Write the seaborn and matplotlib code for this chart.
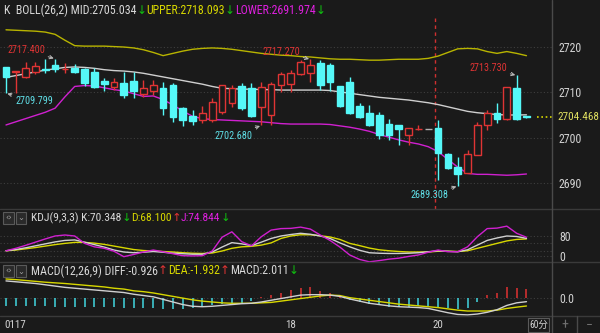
import numpy as np
import pandas as pd
import matplotlib
matplotlib.use("Agg")
import matplotlib.pyplot as plt
import matplotlib.transforms as mtransforms
from matplotlib.lines import Line2D
from matplotlib.patches import Rectangle
from matplotlib import font_manager as fm
import seaborn as sns

# ---------------- data ----------------
opens = [2715.5, 2714.5, 2713.3, 2714.4, 2715.15, 2716.0, 2715.1, 2715.3, 2715.1, 2714.5,
         2712.5, 2711.2, 2712.0, 2712.5, 2709.6, 2710.4, 2710.9, 2711.6, 2706.6, 2704.8,
         2703.9, 2703.9, 2705.7, 2707.7, 2711.4, 2710.9, 2706.7, 2705.0, 2711.6, 2711.8,
         2714.0, 2714.3, 2716.4, 2716.0, 2711.5, 2712.35, 2707.0, 2705.4, 2705.0, 2703.0,
         2702.8, 2700.6, 2701.8, 2701.9, 2702.05, 2696.3, 2693.6, 2692.3, 2696.2, 2702.8,
         2705.5, 2704.2, 2711.0, 2704.7]
closes = [2713.3, 2714.6, 2715.3, 2715.8, 2715.0, 2715.1, 2715.2, 2714.4, 2712.1, 2711.1,
          2711.8, 2712.3, 2709.4, 2710.3, 2710.9, 2711.6, 2706.5, 2704.6, 2703.9, 2703.7,
          2705.5, 2707.9, 2711.6, 2710.9, 2706.5, 2704.8, 2711.2, 2711.8, 2714.0, 2714.3,
          2716.6, 2716.0, 2711.6, 2712.35, 2707.05, 2705.5, 2704.6, 2702.8, 2700.6, 2700.6,
          2701.8, 2702.05, 2701.9, 2701.9, 2696.5, 2693.4, 2692.0, 2696.3, 2702.9, 2705.5,
          2704.2, 2711.2, 2704.2, 2704.468]
highs = [2715.6, 2714.6, 2716.8, 2716.6, 2717.3, 2717.4, 2716.4, 2716.2, 2715.3, 2715.3,
         2713.1, 2713.1, 2714.5, 2714.5, 2712.7, 2712.7, 2712.3, 2712.0, 2706.7, 2706.1,
         2707.0, 2708.7, 2711.6, 2711.6, 2712.0, 2712.0, 2712.35, 2712.35, 2714.55, 2714.9,
         2717.1, 2717.27, 2717.1, 2716.5, 2711.5, 2713.45, 2707.6, 2707.2, 2705.7, 2704.2,
         2702.8, 2702.05, 2702.8, 2701.9, 2703.9, 2696.7, 2695.8, 2697.3, 2703.4, 2706.1,
         2707.6, 2711.2, 2713.73, 2704.7]
lows = [2709.799, 2709.9, 2713.2, 2714.0, 2714.2, 2714.4, 2714.3, 2714.2, 2711.4, 2710.9,
        2710.4, 2710.5, 2708.7, 2708.7, 2708.9, 2709.4, 2705.0, 2703.5, 2702.6, 2702.9,
        2703.3, 2703.5, 2705.2, 2706.7, 2706.1, 2704.6, 2702.68, 2702.8, 2710.1, 2710.1,
        2713.8, 2712.35, 2710.5, 2710.4, 2706.7, 2705.2, 2704.25, 2702.6, 2699.6, 2699.5,
        2698.4, 2698.4, 2701.7, 2701.9, 2690.6, 2693.0, 2689.308, 2692.1, 2696.2, 2701.7,
        2703.15, 2703.9, 2703.9, 2704.4]
boll_mid = [2713.3, 2713.7, 2714.1, 2714.5, 2714.9, 2715.2, 2715.5, 2715.6, 2715.5, 2715.3,
            2715.0, 2714.8, 2714.7, 2714.5, 2714.2, 2713.8, 2713.4, 2713.0, 2712.6, 2712.2,
            2711.8, 2711.3, 2710.9, 2710.8, 2710.7, 2710.7, 2710.6, 2710.6, 2710.5, 2710.5,
            2710.5, 2710.5, 2710.5, 2710.4, 2710.1, 2709.8, 2709.5, 2709.2, 2708.9, 2708.7,
            2708.5, 2708.3, 2708.0, 2707.7, 2707.3, 2706.8, 2706.3, 2705.8, 2705.5, 2705.3,
            2705.1, 2705.0, 2705.0, 2705.034]
boll_upper = [2723.8, 2723.7, 2723.6, 2723.5, 2723.3, 2722.8, 2721.5, 2720.3, 2720.2, 2720.2,
              2720.2, 2720.1, 2720.0, 2719.8, 2719.4, 2718.8, 2718.1, 2718.6, 2719.1, 2719.5,
              2719.7, 2719.8, 2719.7, 2719.5, 2719.2, 2718.9, 2718.6, 2718.4, 2718.2, 2718.1,
              2717.9, 2717.8, 2717.6, 2717.4, 2717.3, 2717.3, 2717.2, 2717.1, 2717.1, 2717.2,
              2717.3, 2717.3, 2717.3, 2717.5, 2718.0, 2718.8, 2719.6, 2719.7, 2719.6, 2719.0,
              2718.6, 2719.0, 2718.6, 2718.093]
boll_lower = [2702.8, 2703.5, 2704.2, 2704.9, 2705.6, 2706.5, 2709.0, 2711.3, 2711.5, 2711.4,
              2711.0, 2710.6, 2710.3, 2709.7, 2709.1, 2709.2, 2708.4, 2707.2, 2705.9, 2704.7,
              2704.2, 2704.0, 2703.9, 2703.8, 2703.7, 2703.6, 2703.5, 2703.3, 2703.1, 2703.0,
              2703.0, 2703.0, 2703.0, 2702.9, 2702.6, 2702.3, 2701.9, 2701.4, 2700.7, 2700.1,
              2699.5, 2699.0, 2698.6, 2698.0, 2696.9, 2695.2, 2693.5, 2692.1, 2691.9, 2691.9,
              2691.8, 2691.7, 2691.8, 2691.974]
kdj_k = [20, 25, 32, 40, 48, 56, 62, 64, 55, 45,
         35, 23, 15, 12, 14, 17, 14, 10, 8, 6,
         6, 15, 35, 53, 48, 41, 55, 70, 80, 86,
         91, 87, 80, 70, 52, 36, 22, 12, 10, 9,
         9, 10, 12, 16, 20, 18, 16, 24, 43, 62,
         72, 80, 78, 70.348]
kdj_d = [20, 23, 28, 33, 39, 45, 50, 54, 54, 51,
         46, 39, 32, 25, 21, 19, 17, 15, 12, 10,
         9, 11, 19, 30, 36, 38, 43, 52, 70, 80,
         85, 85, 81, 76, 66, 50, 41, 31, 24, 20,
         17, 15, 15, 15, 18, 18, 17, 20, 30, 40,
         50, 60, 66, 68.100]
kdj_j = [20, 30, 42, 55, 68, 80, 84, 80, 50, 36,
         30, 18, -4, 5, 15, 23, 16, 8, 0, -1,
         0, 19, 75, 97, 57, 40, 77, 104, 110, 111,
         116, 108, 84, 62, 35, 3, -15, -25, -20, -14,
         -10, -3, 3, 14, 23, 16, 16, 36, 77, 110,
         112, 120, 91, 74.844]
macd_diff = [3.9, 3.7, 3.5, 3.3, 3.0, 2.7, 2.4, 2.2, 2.0, 1.8,
             1.6, 1.4, 1.2, 0.8, 0.5, 0.2, -0.4, -1.0, -1.6, -2.0,
             -2.1, -2.0, -1.8, -1.6, -1.4, -1.3, -1.0, -0.6, -0.2, 0.2,
             0.6, 0.7, 0.7, 0.6, 0.3, -0.3, -0.8, -1.3, -1.6, -1.9,
             -2.1, -2.2, -2.3, -2.5, -3.0, -3.5, -3.9, -4.0, -3.8, -3.4,
             -2.8, -1.8, -1.2, -0.926]
macd_dea = [4.35, 4.2, 4.0, 3.8, 3.6, 3.45, 3.3, 3.1, 2.9, 2.7,
            2.5, 2.2, 2.0, 1.6, 1.4, 1.1, 0.7, 0.3, -0.1, -0.5,
            -0.8, -1.0, -1.2, -1.3, -1.3, -1.3, -1.2, -1.1, -0.8, -0.5,
            -0.2, 0.1, 0.4, 0.6, 0.5, 0.0, -0.3, -0.6, -0.9, -1.2,
            -1.5, -1.7, -1.9, -2.1, -2.3, -2.6, -2.9, -3.1, -3.1, -3.1,
            -2.9, -2.5, -2.2, -1.932]
macd_hist = [-2.0, -2.0, -2.0, -2.0, -2.0, -2.1, -2.1, -2.1, -2.2, -2.2,
             -2.2, -2.2, -2.3, -2.4, -2.4, -2.5, -2.6, -2.6, -2.6, -2.5,
             -2.2, -1.8, -1.5, -1.3, -1.2, -0.8, 0.2, 0.6, 1.2, 1.8,
             2.2, 2.6, 1.5, 1.0, 0.3, -0.5, -0.9, -1.5, -1.7, -2.1,
             -2.1, -2.1, -1.9, -2.0, -2.5, -2.5, -2.6, -2.5, -0.9, 0.6,
             1.2, 2.4, 2.2, 2.011]
price_ticks = [2690, 2700, 2710, 2720]
kdj_ticks = [0, 80]
macd_ticks = [0.0]
date_labels = ["0117", "18", "20"]
date_index = [0, 29, 44]
last_price = 2704.468
marked_high = [5, 31, 52]
marked_low = [0, 26, 46]

# ---------------- style ----------------
BG = "#1a1a1a"
GRID = "#3e3e3e"
SEP = "#3a3a3a"
TXT = "#d2d2d2"
WHITE = "#d8d8d8"
YEL = "#d8d800"
OLIVE = "#b8b400"
MAG = "#d020d0"
RED = "#e03434"
CYAN = "#55f8f8"
GREEN = "#10c010"

sns.set_theme(style="dark", rc={"axes.facecolor": BG, "figure.facecolor": BG})

entries = fm.fontManager.ttflist
names = {f.name for f in entries}
COND = ("condensed", "semi-condensed", "extra-condensed")


def has_cond(name):
    return any(f.name == name and str(f.stretch) in COND for f in entries)


BASE, STRETCH = "Liberation Sans", "normal"
if "Liberation Sans Narrow" in names:
    BASE, STRETCH = "Liberation Sans Narrow", "normal"
elif "Roboto Condensed" in names:
    BASE, STRETCH = "Roboto Condensed", "normal"
else:
    for nm in ("Liberation Sans", "Roboto", "Noto Sans", "Open Sans", "DejaVu Sans"):
        if has_cond(nm):
            BASE, STRETCH = nm, "condensed"
            break
FAM = [BASE, "DejaVu Sans", "Noto Sans CJK SC"]
plt.rcParams["font.family"] = FAM
plt.rcParams["font.stretch"] = STRETCH

W, H = 600, 333
fig = plt.figure(figsize=(6, 3.33), dpi=100)
fig.patch.set_facecolor(BG)
fig.canvas.draw()
renderer = fig.canvas.get_renderer()


def width_of(s, size):
    t = fig.text(0, 0, s, fontsize=size, family=FAM)
    w = t.get_window_extent(renderer).width
    t.remove()
    return w


def fit(s, target, base=9.0):
    return base * target / width_of(s, base)


TICK_FS = min(9.5, fit("2720", 23.5))
ANN_FS = min(8.5, fit("2717.400", 38))
DATE_FS = min(9.5, fit("0117", 22))


def add_ax(top, bottom, left=0, right=552):
    a = fig.add_axes([left / W, 1 - bottom / H, (right - left) / W, (bottom - top) / H])
    a.set_facecolor(BG)
    for s in a.spines.values():
        s.set_visible(False)
    a.set_xticks([])
    a.grid(False)
    a.yaxis.tick_right()
    a.tick_params(axis="y", length=0, pad=5, labelcolor=TXT, labelsize=TICK_FS)
    return a


n = len(closes)
idx = np.arange(n)
XL = (-0.61, 55.6)

df = pd.DataFrame({"i": idx, "open": opens, "close": closes, "high": highs, "low": lows,
                   "mid": boll_mid, "upper": boll_upper, "lower": boll_lower,
                   "k": kdj_k, "d": kdj_d, "j": kdj_j,
                   "diff": macd_diff, "dea": macd_dea, "hist": macd_hist})

# ---------------- main panel ----------------
ax = add_ax(0, 209)
ax.set_xlim(*XL)
ax.set_ylim(2684.25, 2730.38)
ax.set_yticks(price_ticks)
ax.set_yticklabels([str(t) for t in price_ticks])
for t in price_ticks:
    ax.axhline(t, color=GRID, lw=0.8, ls=(0, (1, 2)), zorder=0)

# day divider
ax.axvline(date_index[2] - 0.36, ymin=0, ymax=(209 - 16) / 209, color="#d03030",
           lw=1.0, ls=(0, (2.5, 2.5)), zorder=1)

sns.lineplot(data=df, x="i", y="upper", ax=ax, color=OLIVE, lw=1.0, legend=False, zorder=2)
sns.lineplot(data=df, x="i", y="lower", ax=ax, color=MAG, lw=1.0, legend=False, zorder=2)
sns.lineplot(data=df, x="i", y="mid", ax=ax, color="#cfcfcf", lw=1.0, legend=False, zorder=2)

up = df["close"] > df["open"]
dn = df["close"] < df["open"]
eq = ~(up | dn)
ccol = np.where(up, RED, np.where(dn, CYAN, "#b0b0b0"))
ax.vlines(df["i"], df["low"], df["high"], colors=ccol, lw=1.0, zorder=3)
bw = 0.68
body_lo = np.minimum(df["open"], df["close"])
body_h = np.abs(df["close"] - df["open"])
ax.bar(df["i"][up], body_h[up], bottom=body_lo[up], width=bw, facecolor=BG,
       edgecolor=RED, lw=1.0, zorder=4)
ax.bar(df["i"][dn], body_h[dn], bottom=body_lo[dn], width=bw, facecolor=CYAN,
       edgecolor=CYAN, lw=1.0, zorder=4)
ax.bar(df["i"][eq], body_h[eq], bottom=body_lo[eq], width=bw, facecolor="#b0b0b0",
       edgecolor="#b0b0b0", lw=1.0, zorder=4)

# marked highs / lows
offs_high = {5: (-7.3, 6.3), 31: (-7.5, 5.5), 52: (-6.9, 5.1)}
offs_low = {0: (6.5, -5.6), 26: (-6.7, -7.3), 46: (-7.0, -6.5)}
for i in marked_high:
    dx, dy = offs_high[i]
    ax.annotate(f"{highs[i]:.3f}", xy=(i, highs[i]), xytext=(dx, dy), textcoords="offset points",
                ha="right" if dx < 0 else "left", va="center", color="#e03434", fontsize=ANN_FS,
                arrowprops=dict(arrowstyle="->", color="#bdbdbd", lw=0.7, shrinkA=0, shrinkB=1,
                                mutation_scale=6), zorder=6)
for i in marked_low:
    dx, dy = offs_low[i]
    ax.annotate(f"{lows[i]:.3f}", xy=(i, lows[i]), xytext=(dx, dy), textcoords="offset points",
                ha="right" if dx < 0 else "left", va="center", color="#60e0e8", fontsize=ANN_FS,
                arrowprops=dict(arrowstyle="->", color="#bdbdbd", lw=0.7, shrinkA=0, shrinkB=1,
                                mutation_scale=6), zorder=6)

# last price marker
ax.axhline(last_price, xmin=537 / 552, xmax=1.0, color=YEL, lw=1.2, ls=(0, (1, 1.6)), zorder=5)
trans = mtransforms.blended_transform_factory(ax.transAxes, ax.transData)
lp_fs = min(TICK_FS, fit(f"{last_price:.3f}", 42))
ax.text(1 + 5 / 552, last_price, f"{last_price:.3f}", transform=trans, color="#e0e060",
        fontsize=lp_fs, ha="left", va="center", clip_on=False)

# ---------------- KDJ panel ----------------
axk = add_ax(209, 262)
axk.set_xlim(*XL)
axk.set_ylim(-25.6, 189.6)
axk.set_yticks(kdj_ticks)
axk.set_yticklabels(["0", "80"])
for t in [0, 20, 50, 80]:
    axk.axhline(t, color=GRID, lw=0.8, ls=(0, (1, 2)), zorder=0)
sns.lineplot(data=df, x="i", y="d", ax=axk, color=YEL, lw=1.0, legend=False)
sns.lineplot(data=df, x="i", y="k", ax=axk, color="#d0d0d0", lw=1.0, legend=False)
sns.lineplot(data=df, x="i", y="j", ax=axk, color=MAG, lw=1.0, legend=False)
axk.set_xlabel(""); axk.set_ylabel("")

# ---------------- MACD panel ----------------
axm = add_ax(262, 316)
axm.set_xlim(*XL)
axm.set_ylim(-4.26, 8.3)
axm.set_yticks(macd_ticks)
axm.set_yticklabels(["0.0"])
axm.axhline(0, color=GRID, lw=0.8, ls=(0, (1, 2)), zorder=0)
hcol = np.where(df["hist"] >= 0, "#d03030", "#3fc8d0")
axm.vlines(df["i"], 0, df["hist"], colors=hcol, lw=1.2, zorder=2)
sns.lineplot(data=df, x="i", y="dea", ax=axm, color=YEL, lw=1.0, legend=False, zorder=3)
sns.lineplot(data=df, x="i", y="diff", ax=axm, color="#d0d0d0", lw=1.0, legend=False, zorder=3)
axm.set_xlabel(""); axm.set_ylabel("")
ax.set_xlabel(""); ax.set_ylabel("")
for a in (ax, axk, axm):
    for lab in a.get_yticklabels():
        lab.set_family(FAM)

# ---------------- frame lines ----------------
def fline(x0, y0, x1, y1, c=SEP, lw=1.0):
    fig.add_artist(Line2D([x0 / W, x1 / W], [1 - y0 / H, 1 - y1 / H], color=c, lw=lw))

fline(0, 209, W, 209)
fline(0, 262, W, 262)
fline(0, 316, W, 316)
fline(552, 0, 552, H, c="#4a4a4a")
fline(577, 316, 577, H, c="#4a4a4a")

# ---------------- rich titles ----------------


def rich(x_px, y_px, parts, target_w):
    total = sum(width_of(s, 9.0) for s, _ in parts)
    size = min(9.5, 9.0 * target_w / total)
    x = x_px
    for s, c in parts:
        t = fig.text(x / W, 1 - y_px / H, s, color=c, fontsize=size, ha="left", va="center",
                     family=FAM)
        x += t.get_window_extent(renderer).width


rich(4, 10, [(f"K  BOLL(26,2) MID:{boll_mid[-1]:.3f}", WHITE), ("↓", GREEN),
             (f"UPPER:{boll_upper[-1]:.3f}", YEL), ("↓", GREEN),
             (f"LOWER:{boll_lower[-1]:.3f}", "#e020e0"), ("↓", GREEN)], 323)
rich(31, 218, [(f"KDJ(9,3,3) K:{kdj_k[-1]:.3f}", WHITE), ("↓", GREEN),
               (f"D:{kdj_d[-1]:.3f}", YEL), ("↑", RED),
               (f"J:{kdj_j[-1]:.3f}", "#e020e0"), ("↓", GREEN)], 199)
rich(31, 271, [(f"MACD(12,26,9) DIFF:{macd_diff[-1]:.3f}", WHITE), ("↑", RED),
               (f"DEA:{macd_dea[-1]:.3f}", YEL), ("↑", RED),
               (f"MACD:{macd_hist[-1]:.3f}", WHITE), ("↓", GREEN)], 267)

# small icon boxes before panel titles
for yc in (218, 271):
    for (x0, x1, s) in ((3, 14, "‹›"), (16, 26, "⌄")):
        fig.add_artist(Rectangle((x0 / W, 1 - (yc + 6) / H), (x1 - x0) / W, 12 / H,
                                 transform=fig.transFigure, facecolor="#2a2a2a",
                                 edgecolor="#5a5a5a", lw=0.8))
        fig.text((x0 + x1) / 2 / W, 1 - yc / H, s, color="#a0a0a0", fontsize=6,
                 ha="center", va="center", family=["DejaVu Sans"])

# ---------------- bottom strip ----------------
btrans = mtransforms.blended_transform_factory(axm.transData, fig.transFigure)
for lab, i in zip(date_labels, date_index):
    if i == 0:
        fig.text(4 / W, 1 - 324.5 / H, lab, color=TXT, fontsize=DATE_FS, ha="left", va="center")
    else:
        fig.text(i, 1 - 324.5 / H, lab, color=TXT, fontsize=DATE_FS, ha="center", va="center",
                 transform=btrans)
fig.add_artist(Rectangle((528 / W, 1 - 332 / H), 21 / W, 14 / H, transform=fig.transFigure,
                         facecolor=BG, edgecolor="#5a5a5a", lw=0.8))
fig.text(538.5 / W, 1 - 325 / H, "60分", color=TXT, fontsize=min(8, fit("60分", 19)),
         ha="center", va="center", family=FAM)
fig.text(565 / W, 1 - 325 / H, "+", color="#707070", fontsize=10, ha="center", va="center")
fig.text(589 / W, 1 - 325 / H, "−", color="#707070", fontsize=10, ha="center", va="center")

fig.savefig("out.png", dpi=100, facecolor=BG)
